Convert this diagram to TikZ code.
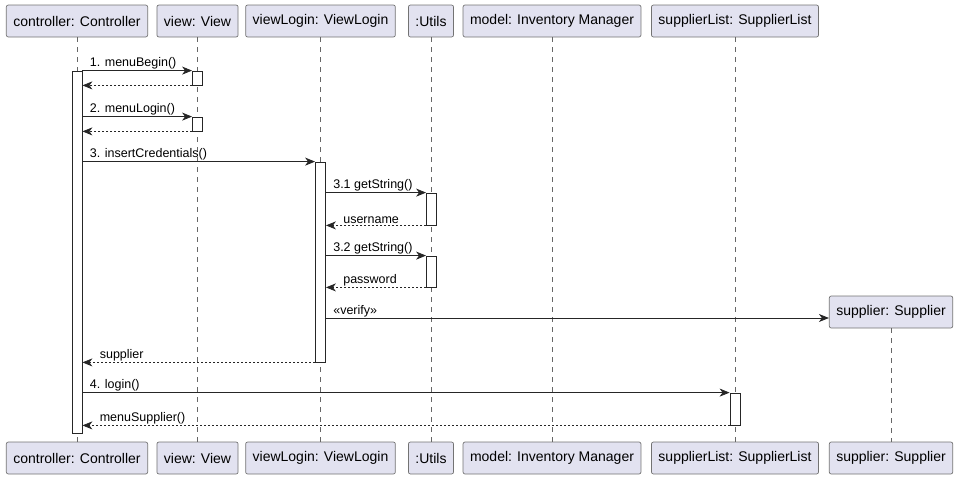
\documentclass[tikz,border=0pt]{standalone}
\usepackage{fontspec}
\setmainfont{Liberation Sans}
\usepackage{tikz}
\usetikzlibrary{arrows.meta}

\begin{document}
\begin{tikzpicture}[x=1pt, y=-1pt,
		part/.style={draw=black!55, fill={rgb,255:red,226;green,226;blue,240}, rounded corners=2pt, line width=0.7pt, minimum height=32pt, inner xsep=7pt, font=\fontsize{14}{16}\selectfont},
		life/.style={draw=black!60, line width=0.6pt, dash pattern=on 5pt off 5pt},
		actbox/.style={draw=black!85, fill=white, line width=0.8pt, minimum width=10pt, inner sep=0pt},
		msg/.style={draw=black!85, line width=0.8pt, -{Stealth[length=10pt, width=8pt, inset=3pt]}},
		ret/.style={msg, dash pattern=on 2pt off 2pt},
		lbl/.style={font=\fontsize{12.5}{15}\selectfont, inner sep=1pt, anchor=south west}]
		\useasboundingbox (0,0) rectangle (958,479);
		
		\node[part] (ctrl) at (77,21) {controller: Controller};
		\node[part] (view) at (197.5,21) {view: View};
		\node[part] (vlog) at (320.5,21) {viewLogin: ViewLogin};
		\node[part] (utils) at (431,21) {:Utils};
		\node[part] (model) at (552,21) {model: Inventory Manager};
		\node[part] (slist) at (735,21) {supplierList: SupplierList};
		\node[part] (sup) at (891,312) {supplier: Supplier};
		
		\node[part] (ctrlB) at (77,458) {controller: Controller};
		\node[part] (viewB) at (197.5,458) {view: View};
		\node[part] (vlogB) at (320.5,458) {viewLogin: ViewLogin};
		\node[part] (utilsB) at (431,458) {:Utils};
		\node[part] (modelB) at (552,458) {model: Inventory Manager};
		\node[part] (slistB) at (735,458) {supplierList: SupplierList};
		\node[part] (supB) at (891,458) {supplier: Supplier};
		
		\foreach \p in {ctrl, view, vlog, utils, model, slist, sup}
			\draw[life] (\p.south) -- (\p B.north);
		
		\node[actbox, minimum height=362pt] (ctrlA) at (77,252) {};
		\node[actbox, minimum height=14pt] (viewA1) at (197.5,78) {};
		\node[actbox, minimum height=14pt] (viewA2) at (197.5,124) {};
		\node[actbox, minimum height=200pt] (vlogA) at (320.5,262) {};
		\node[actbox, minimum height=32pt] (utilsA1) at (431.5,209) {};
		\node[actbox, minimum height=31pt] (utilsA2) at (431.5,271.5) {};
		\node[actbox, minimum height=32pt] (slistA) at (735,409) {};
		
		\draw[msg] (ctrlA.east |- viewA1.north) node[lbl, xshift=6pt] {1. menuBegin()} -- (viewA1.north west);
		\draw[ret] (viewA1.south west) -- (ctrlA.east |- viewA1.south);
		\draw[msg] (ctrlA.east |- viewA2.north) node[lbl, xshift=6pt] {2. menuLogin()} -- (viewA2.north west);
		\draw[ret] (viewA2.south west) -- (ctrlA.east |- viewA2.south);
		\draw[msg] (ctrlA.east |- vlogA.north) node[lbl, xshift=6pt] {3. insertCredentials()} -- (vlogA.north west);
		\draw[msg] (vlogA.east |- utilsA1.north) node[lbl, xshift=6pt] {3.1 getString()} -- (utilsA1.north west);
		\draw[ret] (utilsA1.south west) -- (vlogA.east |- utilsA1.south) node[lbl, xshift=16pt] {username};
		\draw[msg] (vlogA.east |- utilsA2.north) node[lbl, xshift=6pt] {3.2 getString()} -- (utilsA2.north west);
		\draw[ret] (utilsA2.south west) -- (vlogA.east |- utilsA2.south) node[lbl, xshift=16pt] {password};
		\draw[msg] (vlogA.east |- 0,318) node[lbl, xshift=6pt] {«verify»} -- (sup.west |- 0,318);
		\draw[ret] (vlogA.south west) -- (ctrlA.east |- vlogA.south) node[lbl, xshift=16pt] {supplier};
		\draw[msg] (ctrlA.east |- slistA.north) node[lbl, xshift=6pt] {4. login()} -- (slistA.north west);
		\draw[ret] (slistA.south west) -- (ctrlA.east |- slistA.south) node[lbl, xshift=16pt] {menuSupplier()};
		
	\end{tikzpicture}
\end{document}
